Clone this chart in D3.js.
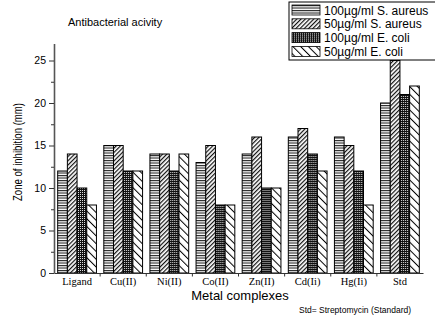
<!DOCTYPE html>
<html lang="en">
<head>
<meta charset="utf-8">
<title>Antibacterial activity</title>
<script src="https://cdnjs.cloudflare.com/ajax/libs/d3/7.0.0/d3.min.js"></script>
<style>
  body { margin: 0; background: #fff; }
  text { fill: #000; }
</style>
</head>
<body>
<svg id="chart" width="435" height="322"></svg>
<script>
const categories = ["Ligand", "Cu(II)", "Ni(II)", "Co(II)", "Zn(II)", "Cd(Ii)", "Hg(Ii)", "Std"];
const seriesNames = ["100\u00b5g/ml S. aureus", "50\u00b5g/ml S. aureus", "100\u00b5g/ml E. coli", "50\u00b5g/ml E. coli"];
const aureus100 = [12, 15, 14, 13, 14, 16, 16, 20];
const aureus50  = [14, 15, 14, 15, 16, 17, 15, 25];
const coli100   = [10, 12, 12, 8, 10, 14, 12, 21];
const coli50    = [8, 12, 14, 8, 10, 12, 8, 22];
const yTicks = [0, 5, 10, 15, 20, 25];
const yMinorTicks = [2.5, 7.5, 12.5, 17.5, 22.5];

const seriesValues = [aureus100, aureus50, coli100, coli50];

const svg = d3.select("#chart");
const defs = svg.append("defs");

// fill patterns, one per series
const p1 = defs.append("pattern").attr("id", "pat0").attr("patternUnits", "userSpaceOnUse")
  .attr("width", 4).attr("height", 2.5);
p1.append("rect").attr("width", 4).attr("height", 2.5).attr("fill", "#fff");
p1.append("rect").attr("width", 4).attr("height", 1.1).attr("fill", "#222");

const p2 = defs.append("pattern").attr("id", "pat1").attr("patternUnits", "userSpaceOnUse")
  .attr("width", 3).attr("height", 3).attr("patternTransform", "rotate(45)");
p2.append("rect").attr("width", 3).attr("height", 3).attr("fill", "#fff");
p2.append("rect").attr("width", 1.2).attr("height", 3).attr("fill", "#111");

const p3 = defs.append("pattern").attr("id", "pat2").attr("patternUnits", "userSpaceOnUse")
  .attr("width", 2).attr("height", 2);
p3.append("rect").attr("width", 2).attr("height", 2).attr("fill", "#111");
p3.append("rect").attr("width", 1).attr("height", 1).attr("fill", "#ddd");

const p4 = defs.append("pattern").attr("id", "pat3").attr("patternUnits", "userSpaceOnUse")
  .attr("width", 5.5).attr("height", 5.5).attr("patternTransform", "rotate(-45)");
p4.append("rect").attr("width", 5.5).attr("height", 5.5).attr("fill", "#fff");
p4.append("rect").attr("width", 1).attr("height", 5.5).attr("fill", "#000");

const fills = ["url(#pat0)", "url(#pat1)", "url(#pat2)", "url(#pat3)"];

const x0 = d3.scaleBand().domain(categories).range([54, 423]).padding(0);
const x1 = d3.scaleBand().domain(d3.range(seriesNames.length))
  .range([0, x0.bandwidth()]).paddingInner(0).paddingOuter(0.38);
const y = d3.scaleLinear().domain([0, 27]).range([273, 43.5]);

// bars
const groups = svg.append("g").selectAll("g")
  .data(categories).join("g")
  .attr("transform", d => `translate(${x0(d)},0)`);

groups.selectAll("rect")
  .data((d, i) => seriesValues.map((vals, s) => ({ s, v: vals[i] })))
  .join("rect")
  .attr("x", d => x1(d.s))
  .attr("width", x1.bandwidth())
  .attr("y", d => y(d.v))
  .attr("height", d => y(0) - y(d.v))
  .attr("fill", d => fills[d.s])
  .attr("stroke", "#000")
  .attr("stroke-width", 1);

// y axis
const yAxis = svg.append("g").attr("transform", "translate(54,0)")
  .call(d3.axisLeft(y).tickValues(yTicks).tickSize(5).tickSizeOuter(0).tickPadding(3));
yAxis.select(".domain").attr("stroke", "#555").attr("stroke-width", 1.6);
yAxis.selectAll(".tick line").attr("stroke", "#333");
yAxis.selectAll("text").attr("font-family", "Liberation Sans, Arial, sans-serif").attr("font-size", 10.5);
svg.append("g").attr("transform", "translate(54,0)")
  .call(d3.axisLeft(y).tickValues(yMinorTicks).tickSize(3).tickFormat(""))
  .call(g => g.select(".domain").remove())
  .selectAll(".tick line").attr("stroke", "#333");

// x axis with ticks at group boundaries
const xAxis = svg.append("g").attr("transform", "translate(0,273)")
  .call(d3.axisBottom(x0).tickSize(0).tickPadding(5));
xAxis.select(".domain").attr("stroke", "#333").attr("stroke-width", 1.2);
xAxis.selectAll("text").attr("font-family", "Liberation Serif, Times New Roman, serif").attr("font-size", 10.5);
svg.append("g").selectAll("line")
  .data(categories.slice(1)).join("line")
  .attr("x1", d => x0(d)).attr("x2", d => x0(d))
  .attr("y1", 273).attr("y2", 276.5)
  .attr("stroke", "#333");

// titles
svg.append("text").attr("x", 68).attr("y", 26)
  .attr("font-family", "Liberation Sans, Arial, sans-serif").attr("font-size", 11)
  .text("Antibacterial acivity");

svg.append("text").attr("transform", "translate(22,152) rotate(-90)")
  .attr("text-anchor", "middle")
  .attr("font-family", "Liberation Sans, Arial, sans-serif").attr("font-size", 12)
  .attr("textLength", 98).attr("lengthAdjust", "spacingAndGlyphs")
  .text("Zone of inhibition (mm)");

svg.append("text").attr("x", 240).attr("y", 300)
  .attr("text-anchor", "middle")
  .attr("font-family", "Liberation Sans, Arial, sans-serif").attr("font-size", 13)
  .text("Metal complexes");

svg.append("text").attr("x", 411).attr("y", 313)
  .attr("text-anchor", "end")
  .attr("font-family", "Liberation Sans, Arial, sans-serif").attr("font-size", 9)
  .attr("textLength", 112).attr("lengthAdjust", "spacingAndGlyphs")
  .text("Std= Streptomycin (Standard)");

// legend
const legend = svg.append("g").attr("transform", "translate(289,2)");
legend.append("rect").attr("x", 0).attr("y", 0).attr("width", 150).attr("height", 58)
  .attr("fill", "#fff").attr("stroke", "#000").attr("stroke-width", 1);
const item = legend.selectAll("g.item").data(seriesNames).join("g")
  .attr("class", "item")
  .attr("transform", (d, i) => `translate(3,${3 + i * 13.8})`);
item.append("rect").attr("width", 28).attr("height", 10)
  .attr("fill", (d, i) => fills[i]).attr("stroke", "#000").attr("stroke-width", 0.8);
item.append("text").attr("x", 32).attr("y", 9.5)
  .attr("font-family", "Liberation Sans, Arial, sans-serif").attr("font-size", 12)
  .text(d => d);
</script>
</body>
</html>
